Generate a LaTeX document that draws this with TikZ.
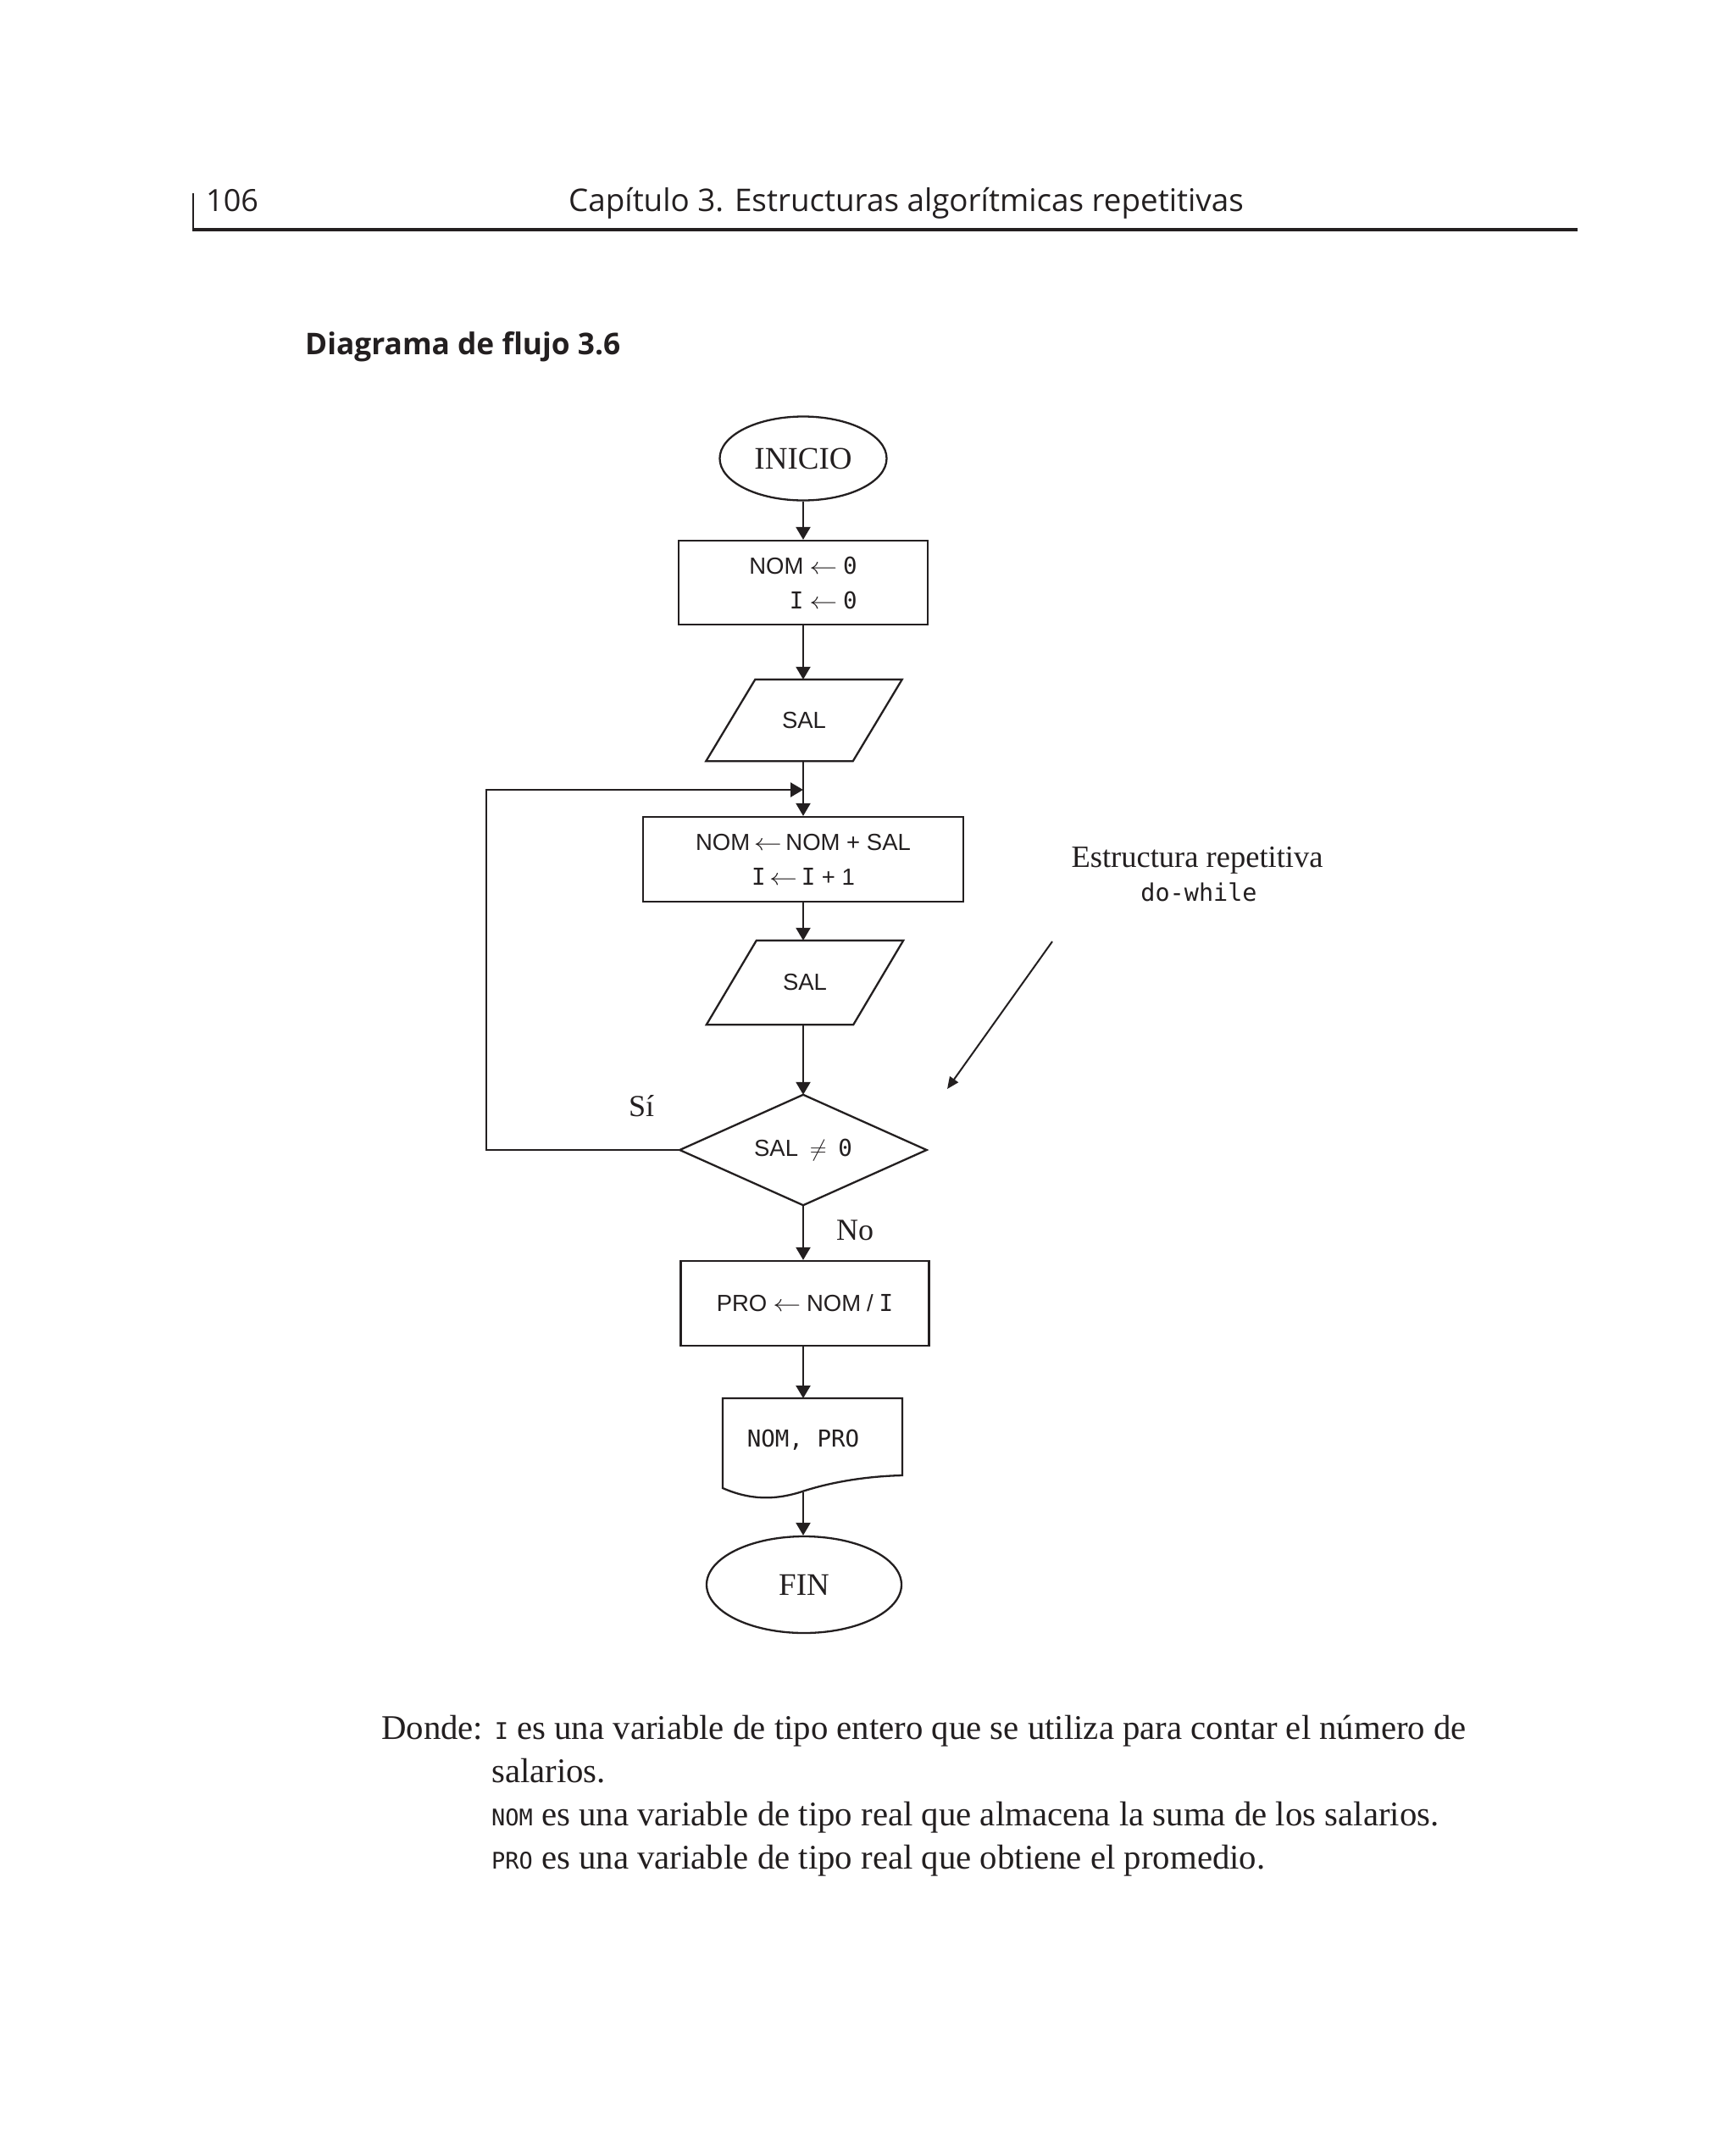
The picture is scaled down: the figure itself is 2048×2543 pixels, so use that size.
\RequirePackage{fix-cm}
\documentclass[tikz,border=0pt]{standalone}
\usepackage{graphicx}
\usepackage{fontspec}
\setmainfont{Liberation Serif}
\newfontfamily\hdr{Open Sans}
\newfontfamily\vsans{Liberation Sans}
\newfontfamily\vmono{DejaVu Sans Mono}
\usetikzlibrary{arrows.meta,shapes.geometric}
\definecolor{ink}{HTML}{231F20}
\newcommand\vn[1]{{\vsans #1}}
\newcommand\vm[1]{{\vmono #1}}
\newcommand\asg{\scalebox{1.2}[1]{$\leftarrow$}}
\begin{document}
\begin{tikzpicture}[x=1pt,y=-1pt,
  every node/.style={text=ink},
  ln/.style={draw=ink,line width=2.3pt},
  arr/.style={ln,-{Triangle[length=15pt,width=17pt]}},
  term/.style={ln,ellipse,inner sep=0pt,font=\fontsize{37}{44}\selectfont},
  proc/.style={ln,rectangle,inner sep=0pt,font=\fontsize{27.5}{41}\selectfont},
  iobox/.style={rectangle,inner sep=0pt,font=\fontsize{27.5}{41}\selectfont},
  serif/.style={inner sep=0pt,anchor=base west,font=\fontsize{36}{43}\selectfont},
  note/.style={inner sep=0pt,anchor=base west,font=\fontsize{40.8}{51}\selectfont}
]
\useasboundingbox (0,0) rectangle (2048,2543);
\fill[white] (0,0) rectangle (2048,2543);

% header
\draw[draw=ink,line width=3.5pt] (227,271) -- (1862,271);
\draw[draw=ink,line width=2pt] (228,228) -- (228,272);
\node[inner sep=0pt,anchor=base west,font=\hdr\fontsize{36}{43}\selectfont] (pg) at (243,249) {106};
\node[inner sep=0pt,anchor=base west,font=\hdr\fontsize{36.8}{43}\selectfont] (tit) at (671,249) {Capítulo 3. Estructuras algorítmicas repetitivas};
\node[inner sep=0pt,anchor=base west,font=\hdr\bfseries\fontsize{35.3}{40}\selectfont] (cap) at (360,418) {Diagrama de flujo 3.6};

% flowchart nodes
\node[term,minimum width=197pt,minimum height=99pt] (ini) at (948,541) {INICIO};
\node[proc,minimum width=294pt,minimum height=99pt,align=right] (b1) at (948,687.5)
  {\vn{NOM}~\asg~\vm{0}\\\vm{I}~\asg~\vm{0}};
\node[iobox,minimum width=231pt,minimum height=96pt] (s1) at (949,850) {\vn{SAL}};
\draw[ln] (s1.south west) -- ([xshift=-58pt]s1.south east) -- (s1.north east) -- ([xshift=58pt]s1.north west) -- cycle;
\node[proc,minimum width=378pt,minimum height=100pt,align=center] (b2) at (948,1014)
  {\vn{NOM}\,\asg\,\vn{NOM + SAL}\\\vm{I}\,\asg\,\vm{I}\vn{ + 1}};
\node[iobox,minimum width=232pt,minimum height=99pt] (s2) at (950,1159.5) {\vn{SAL}};
\draw[ln] (s2.south west) -- ([xshift=-59pt]s2.south east) -- (s2.north east) -- ([xshift=59pt]s2.north west) -- cycle;
\node[iobox,minimum width=291pt,minimum height=130pt] (dia) at (948,1357) {\vn{SAL}\ \ $\neq$\ \ \vm{0}};
\draw[ln] (dia.west) -- (dia.north) -- (dia.east) -- (dia.south) -- cycle;
\node[proc,minimum width=293pt,minimum height=100pt] (b3) at (950,1538)
  {\vn{PRO}~\asg~\vn{NOM}~\vn{/}~\vm{I}};
% document shape
\coordinate (dtop) at (948,1650);
\coordinate (dbot) at (948,1761);
\draw[ln] (853,1650) -- (1065,1650) -- (1065,1741)
  .. controls (1025,1742) and (985,1748) .. (950,1759)
  .. controls (915,1771) and (885,1770) .. (853,1756) -- cycle;
\node[iobox] (doc) at (948,1699) {\vm{NOM, PRO}};
\node[term,minimum width=230pt,minimum height=114pt] (fin) at (949,1870) {FIN};

% connectors
\coordinate (j) at (948,932);
\coordinate (lp) at (574,932);
\draw[arr] (ini.south) -- (ini.south |- b1.north);
\draw[arr] (b1.south) -- (b1.south |- s1.north);
\draw[arr] (s1.south -| b2.north) -- (b2.north);
\draw[arr] (b2.south) -- (b2.south |- s2.north);
\draw[arr] (s2.south -| dia.north) -- (dia.north);
\draw[arr] (dia.south) -- (dia.south |- b3.north);
\draw[arr] (b3.south -| dtop) -- (dtop);
\draw[arr] (dbot) -- (dbot |- fin.north);
\draw[arr] (dia.west) -- (dia.west -| lp) -- (lp) -- (j);

% labels
\node[serif] (si) at (742,1317) {Sí};
\node[serif] (no) at (987,1463) {No};
\node[inner sep=0pt,font=\fontsize{36.5}{40}\selectfont,anchor=base] (lbl) at (1413,1023) {Estructura repetitiva};
\node[inner sep=0pt,font=\vmono\fontsize{28.5}{40}\selectfont,anchor=base] (lbl2) at (1415,1063) {do-while};
\coordinate (ds) at (1242,1111);
\coordinate (de) at (1118,1285);
\draw[draw=ink,line width=2pt,-{Triangle[length=14pt,width=12pt]}] (ds) -- (de);

% notes
\node[note] (n1) at (450,2052) {Donde: {\vmono\fontsize{27}{30}\selectfont I} es una variable de tipo entero que se utiliza para contar el número de};
\node[note] (n2) at (580,2103) {salarios.};
\node[note] (n3) at (580,2154) {{\vmono\fontsize{27}{30}\selectfont NOM} es una variable de tipo real que almacena la suma de los salarios.};
\node[note] (n4) at (580,2205) {{\vmono\fontsize{27}{30}\selectfont PRO} es una variable de tipo real que obtiene el promedio.};
\end{tikzpicture}
\end{document}
